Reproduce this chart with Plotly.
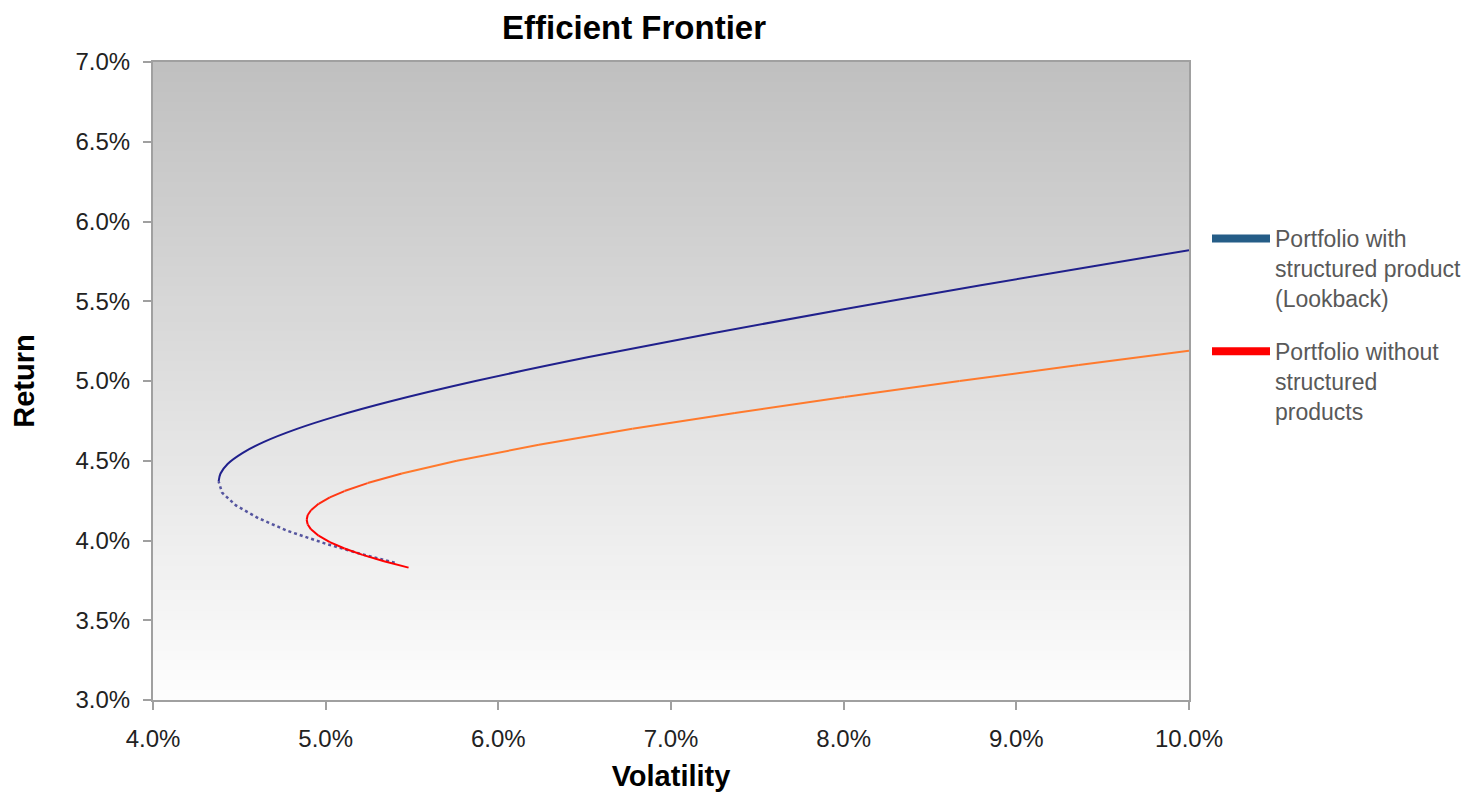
import plotly.graph_objects as go

# ---- data (percent) ----
with_vol = [5.40, 5.19, 5.00, 4.78, 4.61, 4.48, 4.40, 4.38,
            4.391, 4.432, 4.52, 4.646, 4.834, 5.064, 5.366, 5.868,
            6.524, 7.24, 8.001, 8.794, 9.446, 10.0]
with_ret = [3.86, 3.92, 3.98, 4.06, 4.14, 4.22, 4.30, 4.37,
            4.42, 4.48, 4.55, 4.62, 4.70, 4.78, 4.87, 5.00,
            5.15, 5.30, 5.45, 5.60, 5.72, 5.82]
with_vertex_index = 7  # below this index the frontier is drawn dotted

without_vol = [5.48, 5.338, 5.214, 5.109, 5.024, 4.959, 4.915, 4.896, 4.89,
               4.896, 4.915, 4.959, 5.024, 5.109, 5.243, 5.441, 5.76,
               6.235, 6.776, 7.37, 8.004, 8.671, 9.362, 10.0]
without_ret = [3.83, 3.87, 3.91, 3.95, 3.99, 4.03, 4.07, 4.10, 4.13,
               4.16, 4.19, 4.23, 4.27, 4.31, 4.36, 4.42, 4.50,
               4.60, 4.70, 4.80, 4.90, 5.00, 5.10, 5.19]

legend_names = ["Portfolio with<br>structured product<br>(Lookback)",
                "Portfolio without<br>structured<br>products"]

x_ticks = [4, 5, 6, 7, 8, 9, 10]
x_tick_labels = ["4.0%", "5.0%", "6.0%", "7.0%", "8.0%", "9.0%", "10.0%"]
y_ticks = [3.0, 3.5, 4.0, 4.5, 5.0, 5.5, 6.0, 6.5, 7.0]
y_tick_labels = ["3.0%", "3.5%", "4.0%", "4.5%", "5.0%", "5.5%", "6.0%", "6.5%", "7.0%"]

FONT = "Liberation Sans, Arial, sans-serif"

# page body has an 8px default margin: size the figure to fill the window exactly
W, H = 1479 - 8, 792 - 8
OFF = 8

fig = go.Figure()

# blue frontier: dotted lower branch, solid upper branch
fig.add_trace(go.Scatter(
    x=with_vol[:with_vertex_index + 1], y=with_ret[:with_vertex_index + 1],
    mode="lines", line=dict(color="#55559F", width=2.5, dash="dot"),
    showlegend=False, hoverinfo="x+y"))
fig.add_trace(go.Scatter(
    x=with_vol[with_vertex_index:], y=with_ret[with_vertex_index:],
    mode="lines", line=dict(color="#20208C", width=2, shape="spline"),
    showlegend=False, hoverinfo="x+y"))

# red/orange frontier with colour shading along the curve
def shade(r):
    t = min(max((r - 4.15) / (4.45 - 4.15), 0.0), 1.0)
    c0, c1 = (255, 0, 0), (255, 122, 45)
    return "rgb(%d,%d,%d)" % tuple(round(a + (b - a) * t) for a, b in zip(c0, c1))

for i in range(len(without_vol) - 1):
    fig.add_trace(go.Scatter(
        x=without_vol[i:i + 2], y=without_ret[i:i + 2],
        mode="lines",
        line=dict(color=shade((without_ret[i] + without_ret[i + 1]) / 2), width=2),
        showlegend=False, hoverinfo="x+y"))

# legend entries
fig.add_trace(go.Scatter(x=[None], y=[None], mode="lines", name=legend_names[0],
                         line=dict(color="#255D87", width=8), legendgroup="a"))
fig.add_trace(go.Scatter(x=[None], y=[None], mode="lines", name=legend_names[1],
                         line=dict(color="#FF0000", width=8), legendgroup="b"))

# vertical grey-to-white gradient background
n_bands = 128
shapes = []
for k in range(n_bands):
    t = k / (n_bands - 1)  # 0 bottom, 1 top
    g = round(253 - (253 - 192) * t)
    shapes.append(dict(type="rect", xref="x domain", yref="y domain",
                       x0=0, x1=1, y0=k / n_bands, y1=min((k + 1) / n_bands + 0.002, 1),
                       fillcolor="rgb(%d,%d,%d)" % (g, g, g),
                       line=dict(width=0), layer="below"))

axis_common = dict(showline=True, linecolor="#A0A0A0", linewidth=2, mirror=True,
                   showgrid=False, zeroline=False, ticks="outside", ticklen=8,
                   tickcolor="#A0A0A0", tickwidth=2, automargin=False,
                   tickfont=dict(family=FONT, size=24, color="#222222"))

plot_left, plot_right, plot_top, plot_bottom = 153, 1189, 62, 700

fig.update_layout(
    width=W, height=H,
    margin=dict(l=plot_left - OFF, r=1479 - plot_right, t=plot_top - OFF, b=792 - plot_bottom),
    paper_bgcolor="white", plot_bgcolor="white",
    shapes=shapes,
    title=dict(text="<b>Efficient Frontier</b>", x=(634 - OFF) / W, xanchor="center",
               y=1 - (27 - OFF) / H, yanchor="middle",
               font=dict(family=FONT, size=33, color="black")),
    xaxis=dict(range=[4, 10], tickvals=x_ticks, ticktext=x_tick_labels,
               ticklabelstandoff=8,
               title=dict(text="<b>Volatility</b>", standoff=18,
                          font=dict(family=FONT, size=29, color="black")),
               **axis_common),
    yaxis=dict(range=[3, 7], tickvals=y_ticks, ticktext=y_tick_labels,
               ticklabelstandoff=8,
               title=dict(text="<b>Return</b>", standoff=44,
                          font=dict(family=FONT, size=29, color="black")),
               **axis_common),
    legend=dict(x=(1207 - plot_left) / (plot_right - plot_left),
                y=1 - (217 - plot_top) / (plot_bottom - plot_top),
                xanchor="left", yanchor="top", valign="top",
                bgcolor="rgba(0,0,0,0)", itemwidth=58, tracegroupgap=20,
                font=dict(family=FONT, size=23, color="#595959")),
    showlegend=True,
)

fig.write_html("out.html")
